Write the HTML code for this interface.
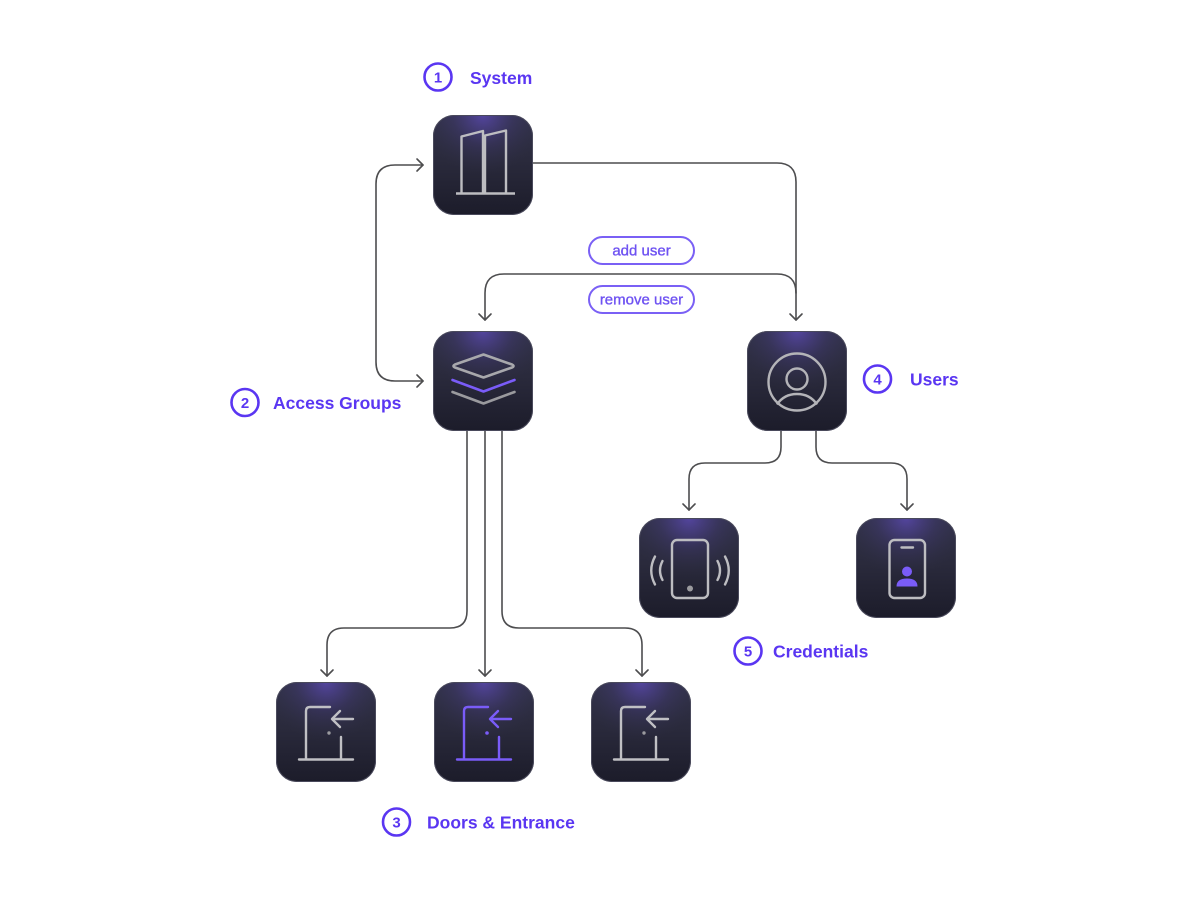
<!DOCTYPE html>
<html>
<head>
<meta charset="utf-8">
<style>
html,body{margin:0;padding:0;background:#ffffff;}
svg{display:block;}
</style>
</head>
<body>
<svg width="1200" height="900" viewBox="0 0 1200 900" xmlns="http://www.w3.org/2000/svg">
<defs>
  <linearGradient id="boxg" x1="0" y1="0" x2="0" y2="1">
    <stop offset="0" stop-color="#32324a"/>
    <stop offset="0.45" stop-color="#2a2a3c"/>
    <stop offset="1" stop-color="#1c1c2a"/>
  </linearGradient>
  <radialGradient id="glow" cx="0.5" cy="0" r="0.6" fx="0.5" fy="0">
    <stop offset="0" stop-color="#6a52d8" stop-opacity="0.6"/>
    <stop offset="0.5" stop-color="#5a48b0" stop-opacity="0.18"/>
    <stop offset="1" stop-color="#3a3a5a" stop-opacity="0"/>
  </radialGradient>
  <g id="box">
    <rect x="0" y="0" width="100" height="100" rx="21" ry="21" fill="url(#boxg)"/>
    <rect x="0" y="0" width="100" height="100" rx="21" ry="21" fill="url(#glow)"/>
    <rect x="0.5" y="0.5" width="99" height="99" rx="20.5" ry="20.5" fill="none" stroke="#4a4a5c" stroke-width="1"/>
  </g>
</defs>

<!-- Connectors -->
<g fill="none" stroke="#4d4d4f" stroke-width="1.6" stroke-linecap="round" stroke-linejoin="round">
  <path d="M533,163 H777 Q796,163 796,182 V320"/>
  <path d="M790,314 L796,320 L802,314"/>
  <path d="M423,165 H395 Q376,165 376,184 V362 Q376,381 395,381 H423"/>
  <path d="M417,159 L423,165 L417,171"/>
  <path d="M417,375 L423,381 L417,387"/>
  <path d="M485,320 V293 Q485,274 504,274 H777 Q796,274 796,293"/>
  <path d="M479,314 L485,320 L491,314"/>
  <path d="M467,431 V611 Q467,628 450,628 H344 Q327,628 327,645 V676"/>
  <path d="M321,670 L327,676 L333,670"/>
  <path d="M485,431 V676"/>
  <path d="M479,670 L485,676 L491,670"/>
  <path d="M502,431 V611 Q502,628 519,628 H625 Q642,628 642,645 V676"/>
  <path d="M636,670 L642,676 L648,670"/>
  <path d="M781,431 V447 Q781,463 765,463 H705 Q689,463 689,479 V510"/>
  <path d="M683,504 L689,510 L695,504"/>
  <path d="M816,431 V447 Q816,463 832,463 H891 Q907,463 907,479 V510"/>
  <path d="M901,504 L907,510 L913,504"/>
</g>

<!-- Pills -->
<g font-family="Liberation Sans, sans-serif" font-size="15" text-anchor="middle" fill="#6e52f2" stroke="#6e52f2" stroke-width="0.35">
  <rect x="589" y="237" width="105" height="27" rx="13.5" fill="#ffffff" stroke="#7a60f5" stroke-width="2"/>
  <text x="641.5" y="255.5">add user</text>
  <rect x="589" y="286" width="105" height="27" rx="13.5" fill="#ffffff" stroke="#7a60f5" stroke-width="2"/>
  <text x="641.5" y="304.5">remove user</text>
</g>

<!-- System box -->
<g transform="translate(433,115)">
  <use href="#box"/>
  <g fill="none" stroke="#bdbdc1" stroke-width="2.4" stroke-linejoin="round">
    <path d="M28.5,77.5 V21.5 L50,16 V77.5"/>
    <path d="M52,77.5 V20.5 L73,15.5 V77.5"/>
    <path d="M23,78.5 H82"/>
  </g>
</g>

<!-- Access groups box -->
<g transform="translate(433,331)">
  <use href="#box"/>
  <g fill="none" stroke-width="2.6" stroke-linejoin="round" stroke-linecap="round">
    <path d="M19.5,61 L50.5,72.5 L81.5,61" stroke="#9a9a9e"/>
    <path d="M19.5,49 L50.5,60.5 L81.5,49" stroke="#7a5cf8"/>
    <path d="M50.5,23.5 L79,33.5 Q82,35 79,36.5 L50.5,46.5 L22,36.5 Q19,35 22,33.5 Z" stroke="#a8a8ac"/>
  </g>
</g>

<!-- Users box -->
<g transform="translate(747,331)">
  <use href="#box"/>
  <g fill="none" stroke="#b4b4b8" stroke-width="2.4">
    <circle cx="50" cy="51" r="28.5"/>
    <circle cx="50" cy="48" r="10.5"/>
    <path d="M30,73.5 C35,66 42,63 50,63 C58,63 65,66 70,73.5"/>
  </g>
</g>

<!-- Credentials left -->
<g transform="translate(639,518)">
  <use href="#box"/>
  <g fill="none" stroke="#bdbdc1" stroke-width="2.4" stroke-linecap="round">
    <rect x="33" y="22" width="36" height="58" rx="5"/>
    <path d="M23.5,43 Q18.5,52.5 23.5,62"/>
    <path d="M16,38.5 Q8.5,52.5 16,66.5"/>
    <path d="M78.5,43 Q83.5,52.5 78.5,62"/>
    <path d="M86,38.5 Q93.5,52.5 86,66.5"/>
  </g>
  <circle cx="51" cy="70.5" r="3" fill="#9b9b9f"/>
</g>

<!-- Credentials right -->
<g transform="translate(856,518)">
  <use href="#box"/>
  <g fill="none" stroke="#bdbdc1" stroke-width="2.4" stroke-linecap="round">
    <rect x="33.5" y="22" width="35.5" height="58" rx="5"/>
    <path d="M45.5,29.5 H57"/>
  </g>
  <circle cx="51" cy="53.5" r="5" fill="#7a5cf8"/>
  <path d="M40.5,68.5 Q40.5,60.5 51,60.5 Q61.5,60.5 61.5,68.5 Z" fill="#7a5cf8"/>
</g>

<!-- Doors -->
<g transform="translate(276,682)">
  <use href="#box"/>
  <g fill="none" stroke="#c0c0c4" stroke-width="2.4" stroke-linecap="round" stroke-linejoin="round">
    <path d="M30,77 V29 Q30,25 34,25 H54"/>
    <path d="M65,55 V77"/>
    <path d="M23,77.5 H77"/>
    <path d="M77,37 H57"/>
    <path d="M64,29 L56,37 L64,45"/>
  </g>
  <circle cx="53" cy="51" r="1.7" fill="#9b9b9f"/>
</g>
<g transform="translate(434,682)">
  <use href="#box"/>
  <g fill="none" stroke="#7a5cf8" stroke-width="2.4" stroke-linecap="round" stroke-linejoin="round">
    <path d="M30,77 V29 Q30,25 34,25 H54"/>
    <path d="M65,55 V77"/>
    <path d="M23,77.5 H77"/>
    <path d="M77,37 H57"/>
    <path d="M64,29 L56,37 L64,45"/>
  </g>
  <circle cx="53" cy="51" r="1.8" fill="#7a5cf8"/>
</g>
<g transform="translate(591,682)">
  <use href="#box"/>
  <g fill="none" stroke="#c0c0c4" stroke-width="2.4" stroke-linecap="round" stroke-linejoin="round">
    <path d="M30,77 V29 Q30,25 34,25 H54"/>
    <path d="M65,55 V77"/>
    <path d="M23,77.5 H77"/>
    <path d="M77,37 H57"/>
    <path d="M64,29 L56,37 L64,45"/>
  </g>
  <circle cx="53" cy="51" r="1.7" fill="#9b9b9f"/>
</g>

<!-- Labels -->
<g font-family="Liberation Sans, sans-serif" font-weight="bold" fill="#5a36f2">
  <g fill="none" stroke="#5a36f2" stroke-width="2.6">
    <circle cx="438" cy="77" r="13.5"/>
    <circle cx="245" cy="402.5" r="13.5"/>
    <circle cx="877.5" cy="379" r="13.5"/>
    <circle cx="748" cy="651" r="13.5"/>
    <circle cx="396.5" cy="822" r="13.5"/>
  </g>
  <g font-size="15" text-anchor="middle">
    <text x="438" y="82.5">1</text>
    <text x="245" y="408">2</text>
    <text x="877.5" y="384.5">4</text>
    <text x="748" y="656.5">5</text>
    <text x="396.5" y="827.5">3</text>
  </g>
  <g font-size="17.5">
    <text x="470" y="84">System</text>
    <text x="273" y="409">Access Groups</text>
    <text x="910" y="385.5">Users</text>
    <text x="773" y="657.5">Credentials</text>
    <text x="427" y="828.5">Doors &amp; Entrance</text>
  </g>
</g>
</svg>
</body>
</html>
